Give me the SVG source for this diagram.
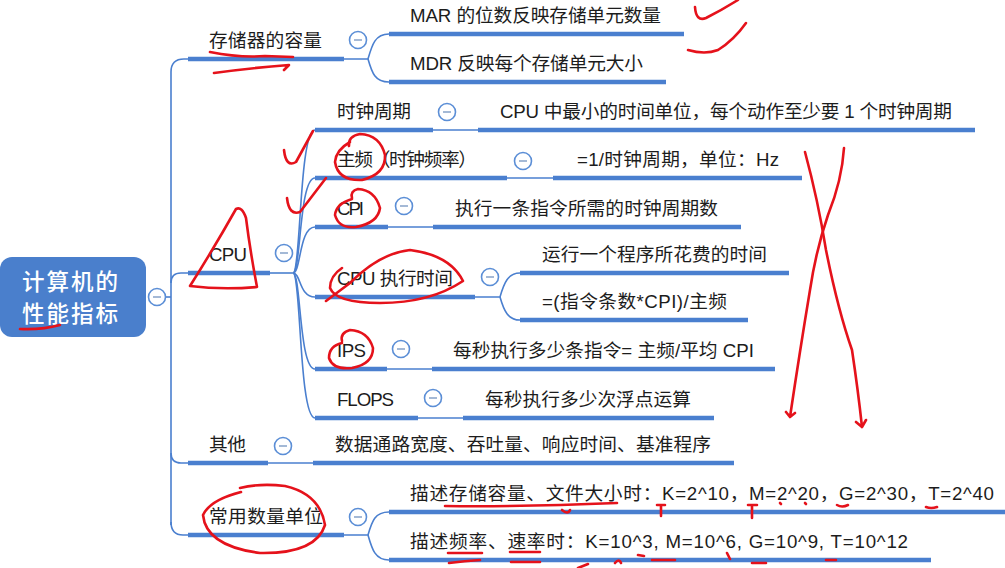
<svg xmlns="http://www.w3.org/2000/svg" xmlns:xlink="http://www.w3.org/1999/xlink" width="1005" height="568" viewBox="0 0 1005 568">
<style>
.t{font-family:"Liberation Sans","Noto Sans CJK SC",sans-serif;font-size:18.7px;fill:#1c1c1c}
.root{font-family:"Noto Sans CJK SC","Noto Sans",sans-serif;font-size:22.5px;fill:#ffffff;font-weight:500}
.bar{stroke:#4a7fcf;stroke-width:4.5;fill:none}
.ln{stroke:#4a7fcf;stroke-width:1.6;fill:none}
.red{stroke:#e5121b;stroke-width:2.6;fill:none;stroke-linecap:round;stroke-linejoin:round}
</style>
<defs>
<g id="col"><circle r="8.5" fill="#ffffff" stroke="#5b8ed6" stroke-width="1.6"/><line x1="-4" y1="0" x2="4" y2="0" stroke="#8ea8cc" stroke-width="1.6"/></g>
</defs>
<rect width="1005" height="568" fill="#ffffff"/>

<g id="connectors">
<line class="ln" x1="165" y1="297" x2="171" y2="297"/>
<path class="ln" d="M171 525 L171 72 Q171 59 184 59 L188 59"/>
<path class="ln" d="M171 283 Q171 273 181 273 L188 273"/>
<path class="ln" d="M171 453 Q171 463 181 463 L188 463"/>
<path class="ln" d="M171 522 Q171 535 183 535 L188 535"/>
<path class="ln" d="M344 59 L368 59 C372 45 375 34 389 34"/>
<path class="ln" d="M368 59 C372 73 375 82 389 82"/>
<line class="ln" x1="270" y1="273" x2="293" y2="273"/>
<path class="ln" d="M293 273 C301 273 299 130 315 130"/>
<path class="ln" d="M293 273 C301 273 299 178 315 178"/>
<path class="ln" d="M293 273 C301 273 299 227 315 227"/>
<path class="ln" d="M293 273 C301 273 299 297 315 297"/>
<path class="ln" d="M293 273 C301 273 299 369 315 369"/>
<path class="ln" d="M293 273 C301 273 299 418 315 418"/>
<line class="ln" x1="433" y1="130" x2="478" y2="130"/>
<line class="ln" x1="507" y1="178" x2="553" y2="178"/>
<line class="ln" x1="388" y1="227" x2="433" y2="227"/>
<path class="ln" d="M475 297 L500 297 C504 283 508 273 520 273"/>
<path class="ln" d="M500 297 C504 311 508 320 520 320"/>
<line class="ln" x1="387" y1="369" x2="432" y2="369"/>
<line class="ln" x1="418" y1="418" x2="463" y2="418"/>
<line class="ln" x1="268" y1="463" x2="313" y2="463"/>
<path class="ln" d="M344 535 L368 535 C372 521 375 512 389 512"/>
<path class="ln" d="M368 535 C372 549 375 560 389 560"/>
</g>

<g id="root">
<rect x="0" y="257" width="146" height="80" rx="12" fill="#4a7fcc"/>
<text class="root" x="22" y="290" textLength="96" lengthAdjust="spacing">计算机的</text>
<text class="root" x="22" y="322" textLength="96" lengthAdjust="spacing">性能指标</text>
<use xlink:href="#col" x="157" y="297"/>
</g>

<g id="n-storage">
<text class="t" x="209" y="47" textLength="113" lengthAdjust="spacing">存储器的容量</text>
<line class="bar" x1="188" y1="59" x2="344" y2="59"/>
<use xlink:href="#col" x="358" y="40"/>
</g>
<g id="n-mar">
<text class="t" x="410" y="22" textLength="251" lengthAdjust="spacing">MAR 的位数反映存储单元数量</text>
<line class="bar" x1="389" y1="34" x2="684" y2="34"/>
</g>
<g id="n-mdr">
<text class="t" x="410" y="70" textLength="233" lengthAdjust="spacing">MDR 反映每个存储单元大小</text>
<line class="bar" x1="389" y1="82" x2="666" y2="82"/>
</g>

<g id="n-cpu">
<text class="t" x="209" y="261" textLength="38" lengthAdjust="spacing">CPU</text>
<line class="bar" x1="188" y1="273" x2="270" y2="273"/>
<use xlink:href="#col" x="284" y="253"/>
</g>

<g id="n-clock">
<text class="t" x="337" y="118" textLength="74" lengthAdjust="spacing">时钟周期</text>
<line class="bar" x1="315" y1="130" x2="433" y2="130"/>
<use xlink:href="#col" x="447" y="112"/>
</g>
<g id="n-clock-d">
<text class="t" x="500" y="118" textLength="452" lengthAdjust="spacing">CPU 中最小的时间单位，每个动作至少要 1 个时钟周期</text>
<line class="bar" x1="478" y1="130" x2="975" y2="130"/>
</g>

<g id="n-freq">
<text class="t" x="337" y="166" textLength="140" lengthAdjust="spacing">主频（时钟频率）</text>
<line class="bar" x1="315" y1="178" x2="507" y2="178"/>
<use xlink:href="#col" x="523" y="161"/>
</g>
<g id="n-freq-d">
<text class="t" x="577" y="166" textLength="202" lengthAdjust="spacing">=1/时钟周期，单位：Hz</text>
<line class="bar" x1="553" y1="178" x2="802" y2="178"/>
</g>

<g id="n-cpi">
<text class="t" x="337" y="215" textLength="27" lengthAdjust="spacing">CPI</text>
<line class="bar" x1="315" y1="227" x2="388" y2="227"/>
<use xlink:href="#col" x="404" y="206"/>
</g>
<g id="n-cpi-d">
<text class="t" x="455" y="215" textLength="263" lengthAdjust="spacing">执行一条指令所需的时钟周期数</text>
<line class="bar" x1="433" y1="227" x2="741" y2="227"/>
</g>

<g id="n-exec">
<text class="t" x="337" y="285" textLength="116" lengthAdjust="spacing">CPU 执行时间</text>
<line class="bar" x1="315" y1="297" x2="475" y2="297"/>
<use xlink:href="#col" x="490" y="277"/>
</g>
<g id="n-exec-d1">
<text class="t" x="542" y="261" textLength="225" lengthAdjust="spacing">运行一个程序所花费的时间</text>
<line class="bar" x1="520" y1="273" x2="789" y2="273"/>
</g>
<g id="n-exec-d2">
<text class="t" x="542" y="308" textLength="185" lengthAdjust="spacing">=(指令条数*CPI)/主频</text>
<line class="bar" x1="520" y1="320" x2="748" y2="320"/>
</g>

<g id="n-ips">
<text class="t" x="337" y="357" textLength="29" lengthAdjust="spacing">IPS</text>
<line class="bar" x1="315" y1="369" x2="387" y2="369"/>
<use xlink:href="#col" x="401" y="349"/>
</g>
<g id="n-ips-d">
<text class="t" x="453" y="357" textLength="301" lengthAdjust="spacing">每秒执行多少条指令= 主频/平均 CPI</text>
<line class="bar" x1="432" y1="369" x2="775" y2="369"/>
</g>

<g id="n-flops">
<text class="t" x="337" y="406" textLength="57" lengthAdjust="spacing">FLOPS</text>
<line class="bar" x1="315" y1="418" x2="418" y2="418"/>
<use xlink:href="#col" x="433" y="398"/>
</g>
<g id="n-flops-d">
<text class="t" x="485" y="406" textLength="206" lengthAdjust="spacing">每秒执行多少次浮点运算</text>
<line class="bar" x1="463" y1="418" x2="714" y2="418"/>
</g>

<g id="n-other">
<text class="t" x="209" y="451" textLength="37" lengthAdjust="spacing">其他</text>
<line class="bar" x1="188" y1="463" x2="268" y2="463"/>
<use xlink:href="#col" x="283" y="446"/>
</g>
<g id="n-other-d">
<text class="t" x="335" y="451" textLength="376" lengthAdjust="spacing">数据通路宽度、吞吐量、响应时间、基准程序</text>
<line class="bar" x1="313" y1="463" x2="734" y2="463"/>
</g>

<g id="n-units">
<text class="t" x="209" y="523" textLength="114" lengthAdjust="spacing">常用数量单位</text>
<line class="bar" x1="188" y1="535" x2="344" y2="535"/>
<use xlink:href="#col" x="358" y="517"/>
</g>
<g id="n-units-1">
<text class="t" x="410" y="500" textLength="584" lengthAdjust="spacing">描述存储容量、文件大小时：K=2^10，M=2^20，G=2^30，T=2^40</text>
<line class="bar" x1="389" y1="512" x2="1005" y2="512"/>
</g>
<g id="n-units-2">
<text class="t" x="410" y="548" textLength="498" lengthAdjust="spacing">描述频率、速率时：K=10^3, M=10^6, G=10^9, T=10^12</text>
<line class="bar" x1="389" y1="560" x2="931" y2="560"/>
</g>

<g id="annotations">
<path class="red" d="M695 7 Q696 22 706 18 Q722 10 738 0"/>
<path class="red" d="M688 50 Q705 55 718 50 Q734 40 746 23"/>
<path class="red" d="M210 52 Q240 58 265 56 L293 57"/>
<path class="red" d="M214 73 Q250 68 289 65 L284 70"/>
<path class="red" d="M20 329 Q42 330 60 325"/>
<path class="red" d="M284 150 Q286 168 296 162 L313 131"/>
<path class="red" d="M350 142 Q336 150 335 162 Q338 181 362 180 Q386 174 385 155 Q380 135 360 134 Q348 136 349 146"/>
<path class="red" d="M287 198 Q289 216 300 212 L326 178"/>
<path class="red" d="M352 199 Q336 204 335 215 Q339 229 356 227 Q378 223 380 208 Q375 190 358 189 Q350 191 352 198"/>
<path class="red" d="M236 209 Q214 248 190 286 Q222 290 257 287 Q250 250 246 218 Q242 206 236 209"/>
<path class="red" d="M342 268 Q330 276 330 288 Q336 303 380 303 Q430 303 463 281 Q450 255 410 250 Q380 253 350 283 Q338 292 326 301"/>
<path class="red" d="M342 343 Q329 346 329 358 Q333 370 352 368 Q373 364 373 348 Q368 331 350 330 Q340 333 342 341"/>
<path class="red" d="M805 152 Q818 200 826 250 Q838 310 852 350 Q858 390 862 427 M856 422 L862 427 L866 420"/>
<path class="red" d="M844 148 Q842 180 828 215 Q816 250 810 290 Q800 350 790 417 M786 412 L790 417 L795 413"/>
<path class="red" d="M241 492 Q210 500 203 515 Q206 546 260 553 Q316 554 325 525 Q320 494 285 486 Q260 483 240 488"/>
<path class="red" d="M445 506 Q520 507 617 503"/>
<path class="red" d="M562 510 Q568 515 570 510"/>
<path class="red" d="M657 505 L665 505 M661 505 L661 516"/>
<path class="red" d="M748 505 L757 505 M752 505 L752 518"/>
<path class="red" d="M780 503 L781 504 M805 503 L806 504"/>
<path class="red" d="M837 505 Q842 508 848 505"/>
<path class="red" d="M926 507 Q931 509 937 507"/>
<path class="red" d="M448 553 L482 553 M449 563 Q465 561 480 560"/>
<path class="red" d="M510 552 L540 552 M511 562 L540 562"/>
<path class="red" d="M615 563 Q619 558 621 563 M638 555 L644 556 M652 560 L675 560 M727 553 L730 559 M752 563 L766 563 M826 560 L836 560 M578 568 L588 564"/>
</g>
</svg>
